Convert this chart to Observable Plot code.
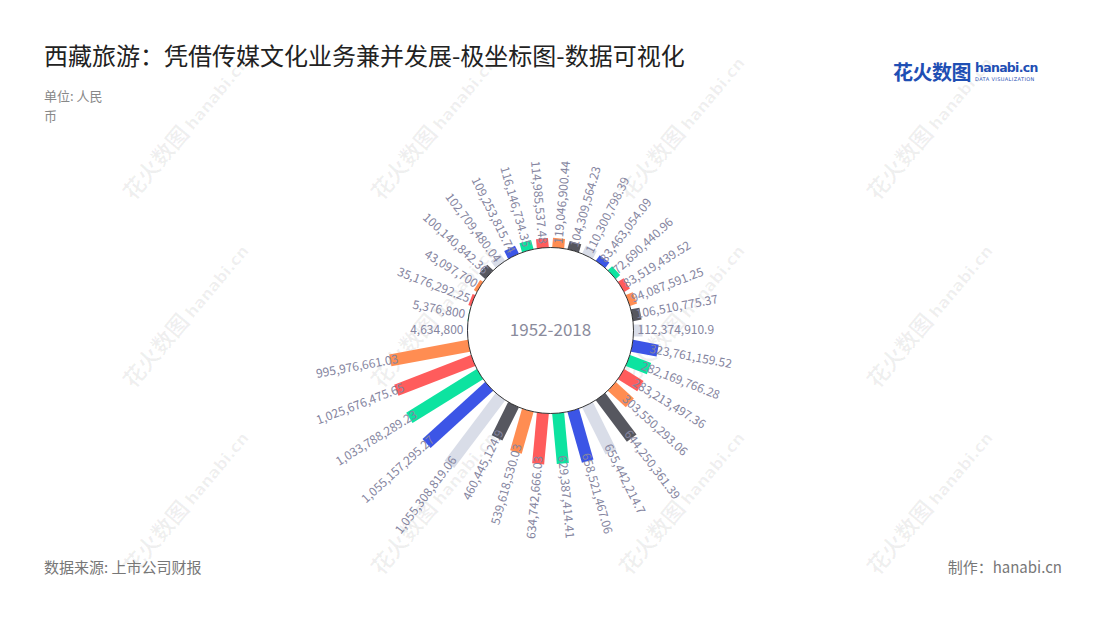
<!DOCTYPE html>
<html>
<head>
<meta charset="utf-8">
<script src="https://cdn.jsdelivr.net/npm/d3@7"></script>
<script src="https://cdn.jsdelivr.net/npm/@observablehq/plot@0.6"></script>
<style>
  html, body { margin: 0; padding: 0; background: #fff; }
  body { width: 1100px; height: 620px; position: relative; overflow: hidden;
         font-family: "Noto Sans CJK SC", "Noto Sans", sans-serif; }
  .title { position: absolute; left: 44px; top: 37px; font-size: 24px; color: #222; white-space: nowrap; }
  .unit { position: absolute; left: 44px; top: 86px; width: 62px; font-size: 13px; line-height: 20px; color: #888; }
  .source { position: absolute; left: 44px; top: 556px; font-size: 15px; color: #777; }
  .maker { position: absolute; right: 38px; top: 556px; font-size: 15px; color: #777; }
  .logo { position: absolute; left: 893px; top: 57px; white-space: nowrap; color: #1f4fb4; }
  .logo .cn { font-size: 20px; font-weight: 700; letter-spacing: -0.5px; vertical-align: top; }
  .logo .en { display: inline-block; margin-left: 4px; vertical-align: top; line-height: 1; }
  .logo .en b { font-family: "DejaVu Sans", sans-serif; font-size: 12.5px; font-weight: 700; letter-spacing: -0.7px; display: block; margin-top: 5px; }
  .logo .en i { font-style: normal; font-family: "DejaVu Sans", sans-serif; font-size: 5px; letter-spacing: 0.4px; display: block; margin-top: 2px; }
  .wm { position: absolute; white-space: nowrap; color: rgba(0,0,0,0.06); transform: translate(-50%,-50%) rotate(-50deg); pointer-events: none; }
  .wm .a { font-size: 22px; font-weight: 700; }
  .wm .b { font-family: "DejaVu Sans", sans-serif; font-size: 16px; font-weight: 700; margin-left: 4px; }
  #chart { position: absolute; left: 0; top: 110px; }
</style>
</head>
<body>
<div id="wms"></div>
<div class="title">西藏旅游：凭借传媒文化业务兼并发展-极坐标图-数据可视化</div>
<div class="unit">单位: 人民币</div>
<div class="logo"><span class="cn">花火数图</span><span class="en"><b>hanabi.cn</b><i>DATA VISUALIZATION</i></span></div>
<div id="chart"></div>
<div class="source">数据来源: 上市公司财报</div>
<div class="maker">制作：hanabi.cn</div>
<script>
// Values, in clockwise order starting at 9 o'clock
const values = [
  4634800, 5376800, 35176292.25, 43097700, 100140842.36, 102709480.04,
  109253815.74, 116146734.35, 114985537.48, 119046900.44, 104309564.23,
  110300798.39, 83463054.09, 72690440.96, 83519439.52, 94087591.25,
  106510775.37, 112374910.9, 323761159.52, 282169766.28, 283213497.36,
  303550293.06, 644250361.39, 655442214.7, 658521467.06, 629387414.41,
  634742666.03, 539618530.03, 460445124.9, 1055308819.06, 1055157295.27,
  1033788289.23, 1025676475.65, 995976661.03
];
const centerLabel = "1952-2018";
const palette = ["#3c55e6", "#0de3a0", "#ff5c5c", "#ff8d52", "#56575f", "#d9dde8"];

// watermarks
const wmCols = [184, 432, 680, 928], wmRows = [126, 314, 501];
const wmBox = document.getElementById("wms");
for (const y of wmRows) for (const x of wmCols) {
  const d = document.createElement("div");
  d.className = "wm";
  d.style.left = x + "px"; d.style.top = y + "px";
  d.innerHTML = '<span class="a">花火数图</span><span class="b">hanabi.cn</span>';
  wmBox.appendChild(d);
}

// layout (pixels)
const W = 1100, H = 440;
const R0 = 83;                 // inner circle radius
const rLen = d3.scaleLinear().domain([0, 1e9]).range([0, 80.3]);
const step = 360 / values.length;
const startAngle = 270;        // compass degrees, first bar at 9 o'clock

const data = values.map((v, i) => {
  const theta = (startAngle + i * step) % 360;
  const t = theta * Math.PI / 180;
  const len = rLen(v);
  const rl = Math.max(R0 + len - 8, R0 + 4);
  const left = theta > 180.0001 && theta < 359.9999 || Math.abs(theta - 270) < 1e-6;
  return {
    i, v, theta,
    x1: R0 * Math.sin(t), y1: R0 * Math.cos(t),
    x2: (R0 + len) * Math.sin(t), y2: (R0 + len) * Math.cos(t),
    lx: rl * Math.sin(t), ly: rl * Math.cos(t),
    left,
    rot: left ? theta - 270 : theta - 90,
    color: palette[i % palette.length],
    label: v.toLocaleString("en-US", {maximumFractionDigits: 2})
  };
});

const labelStyle = {fontSize: 12, fill: "#8585a0", fontFamily: "Noto Sans CJK SC, Noto Sans, sans-serif"};

const chart = Plot.plot({
  width: W, height: H,
  margin: 0,
  x: {domain: [-W / 2, W / 2], axis: null},
  y: {domain: [-H / 2, H / 2], axis: null},
  marks: [
    Plot.link(data, {x1: "x1", y1: "y1", x2: "x2", y2: "y2", stroke: "color", strokeWidth: 12, strokeLinecap: "butt"}),
    Plot.dot([{x: 0, y: 0}], {x: "x", y: "y", r: R0, fill: "white", stroke: "black", strokeWidth: 0.8}),
    Plot.text([{x: 0, y: 0, t: centerLabel}], {x: "x", y: "y", text: "t", fontSize: 17, fill: "#8a8b9c", fontFamily: "Noto Sans CJK SC, Noto Sans, sans-serif"}),
    Plot.text(data.filter(d => !d.left), {x: "lx", y: "ly", text: "label", rotate: "rot", textAnchor: "start", ...labelStyle}),
    Plot.text(data.filter(d => d.left), {x: "lx", y: "ly", text: "label", rotate: "rot", textAnchor: "end", ...labelStyle})
  ]
});
document.getElementById("chart").appendChild(chart);
</script>
</body>
</html>
